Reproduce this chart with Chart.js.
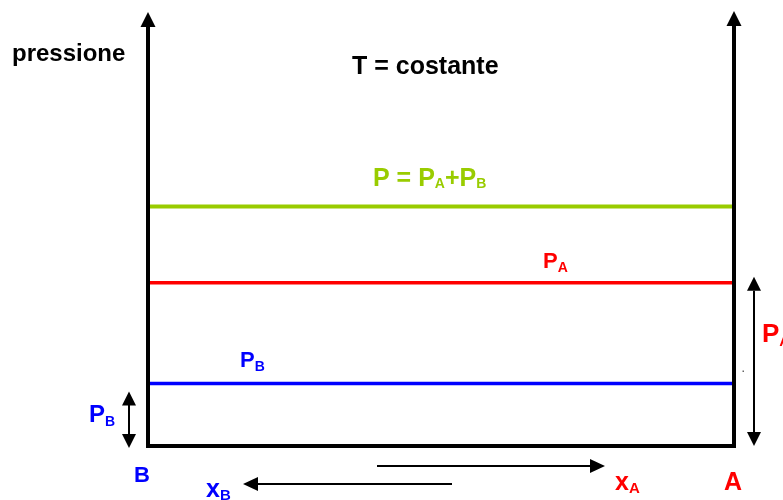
<!DOCTYPE html>
<html>
<head>
<meta charset="utf-8">
<title>pressione - T costante</title>
<script src="https://cdn.jsdelivr.net/npm/chart.js@4.4.1/dist/chart.umd.min.js"></script>
<style>
  html, body { margin: 0; padding: 0; background: #fff; }
  canvas { display: block; }
</style>
</head>
<body>
<canvas id="chart" width="783" height="500"></canvas>
<script>
// composition from B (0) to A (1), pressure in arbitrary units
const xFraction = [0, 1];
const pTotal = [55.2, 55.2];
const pA = [37.6, 37.6];
const pB = [14.4, 14.4];

const GREEN = '#99cc00';
const RED = '#ff0000';
const BLUE = '#0000ff';
const FONT = '"Liberation Sans", Arial, sans-serif';

function toPoints(values) {
    return xFraction.map((x, i) => ({ x: x, y: values[i] }));
}

function arrowHead(ctx, x, y, dir, len, half) {
    // dir: 'up' | 'down' | 'left' | 'right', (x, y) = tip
    ctx.beginPath();
    ctx.moveTo(x, y);
    if (dir === 'up') { ctx.lineTo(x - half, y + len); ctx.lineTo(x + half, y + len); }
    if (dir === 'down') { ctx.lineTo(x - half, y - len); ctx.lineTo(x + half, y - len); }
    if (dir === 'left') { ctx.lineTo(x + len, y - half); ctx.lineTo(x + len, y + half); }
    if (dir === 'right') { ctx.lineTo(x - len, y - half); ctx.lineTo(x - len, y + half); }
    ctx.closePath();
    ctx.fill();
}

// text made of parts: [text, size, dy]
function richText(ctx, parts, x, y, color) {
    ctx.fillStyle = color;
    ctx.textBaseline = 'alphabetic';
    ctx.textAlign = 'left';
    parts.forEach(p => {
        ctx.font = 'bold ' + p[1] + 'px ' + FONT;
        ctx.fillText(p[0], x, y + (p[2] || 0));
        x += ctx.measureText(p[0]).width;
    });
}

const diagram = {
    id: 'diagram',
    afterDatasetsDraw(chart) {
        const ctx = chart.ctx;
        const a = chart.chartArea;
        const ys = chart.scales.y;
        ctx.save();

        // frame: two vertical axes and the base line
        ctx.strokeStyle = '#000';
        ctx.fillStyle = '#000';
        ctx.lineWidth = 4;
        ctx.lineJoin = 'miter';
        ctx.beginPath();
        ctx.moveTo(a.left, a.top + 12);
        ctx.lineTo(a.left, a.bottom);
        ctx.lineTo(a.right, a.bottom);
        ctx.lineTo(a.right, a.top + 12);
        ctx.stroke();
        arrowHead(ctx, a.left, a.top, 'up', 15, 7.5);
        arrowHead(ctx, a.right, a.top - 1, 'up', 15, 7.5);

        // double arrows for PB (left) and PA (right)
        ctx.lineWidth = 2;
        const yB = ys.getPixelForValue(pB[0]);
        const yA = ys.getPixelForValue(pA[0]);
        ctx.beginPath();
        ctx.moveTo(129, yB + 20); ctx.lineTo(129, a.bottom - 10);
        ctx.stroke();
        arrowHead(ctx, 129, yB + 8, 'up', 14, 7);
        arrowHead(ctx, 129, a.bottom + 2, 'down', 14, 7);

        ctx.beginPath();
        ctx.moveTo(754, yA + 8); ctx.lineTo(754, a.bottom - 10);
        ctx.stroke();
        arrowHead(ctx, 754, yA - 6, 'up', 14, 7);
        arrowHead(ctx, 754, a.bottom, 'down', 14, 7);

        // composition arrows under the base line
        ctx.lineWidth = 2;
        ctx.beginPath();
        ctx.moveTo(377, 466); ctx.lineTo(592, 466);
        ctx.stroke();
        arrowHead(ctx, 605, 466, 'right', 15, 7);
        ctx.beginPath();
        ctx.moveTo(452, 484); ctx.lineTo(256, 484);
        ctx.stroke();
        arrowHead(ctx, 243, 484, 'left', 15, 7);

        // stray dot
        ctx.fillStyle = '#666';
        ctx.fillRect(742.5, 370.5, 1.5, 1.5);

        // labels
        richText(ctx, [['pressione', 24]], 12, 61, '#000');
        richText(ctx, [['T = costante', 25]], 352, 74, '#000');
        richText(ctx, [['P = P', 25], ['A', 14, 2], ['+P', 25], ['B', 14, 2]], 373, ys.getPixelForValue(pTotal[0]) - 20, GREEN);
        richText(ctx, [['P', 22], ['A', 14, 4]], 543, yA - 15, RED);
        richText(ctx, [['P', 22], ['B', 14, 4]], 240, yB - 17, BLUE);
        richText(ctx, [['P', 24], ['B', 14, 4]], 89, 422, BLUE);
        richText(ctx, [['P', 26], ['A', 15, 4]], 762, 342, RED);
        richText(ctx, [['B', 22]], 134, 482, BLUE);
        richText(ctx, [['A', 25]], 724, 490, RED);
        richText(ctx, [['x', 25], ['A', 15, 3]], 615, 490, RED);
        richText(ctx, [['x', 25], ['B', 15, 3]], 206, 497, BLUE);

        ctx.restore();
    }
};

new Chart(document.getElementById('chart'), {
    type: 'line',
    data: {
        datasets: [
            { label: 'P = PA+PB', data: toPoints(pTotal), borderColor: GREEN, borderWidth: 4 },
            { label: 'PA', data: toPoints(pA), borderColor: RED, borderWidth: 3.5 },
            { label: 'PB', data: toPoints(pB), borderColor: BLUE, borderWidth: 3.5 }
        ]
    },
    options: {
        responsive: false,
        animation: false,
        layout: { padding: { left: 148, right: 49, top: 12, bottom: 54 } },
        elements: { point: { radius: 0 }, line: { tension: 0 } },
        plugins: { legend: { display: false }, tooltip: { enabled: false } },
        scales: {
            x: { type: 'linear', min: 0, max: 1, display: false },
            y: { type: 'linear', min: 0, max: 100, display: false }
        }
    },
    plugins: [diagram]
});
</script>
</body>
</html>
